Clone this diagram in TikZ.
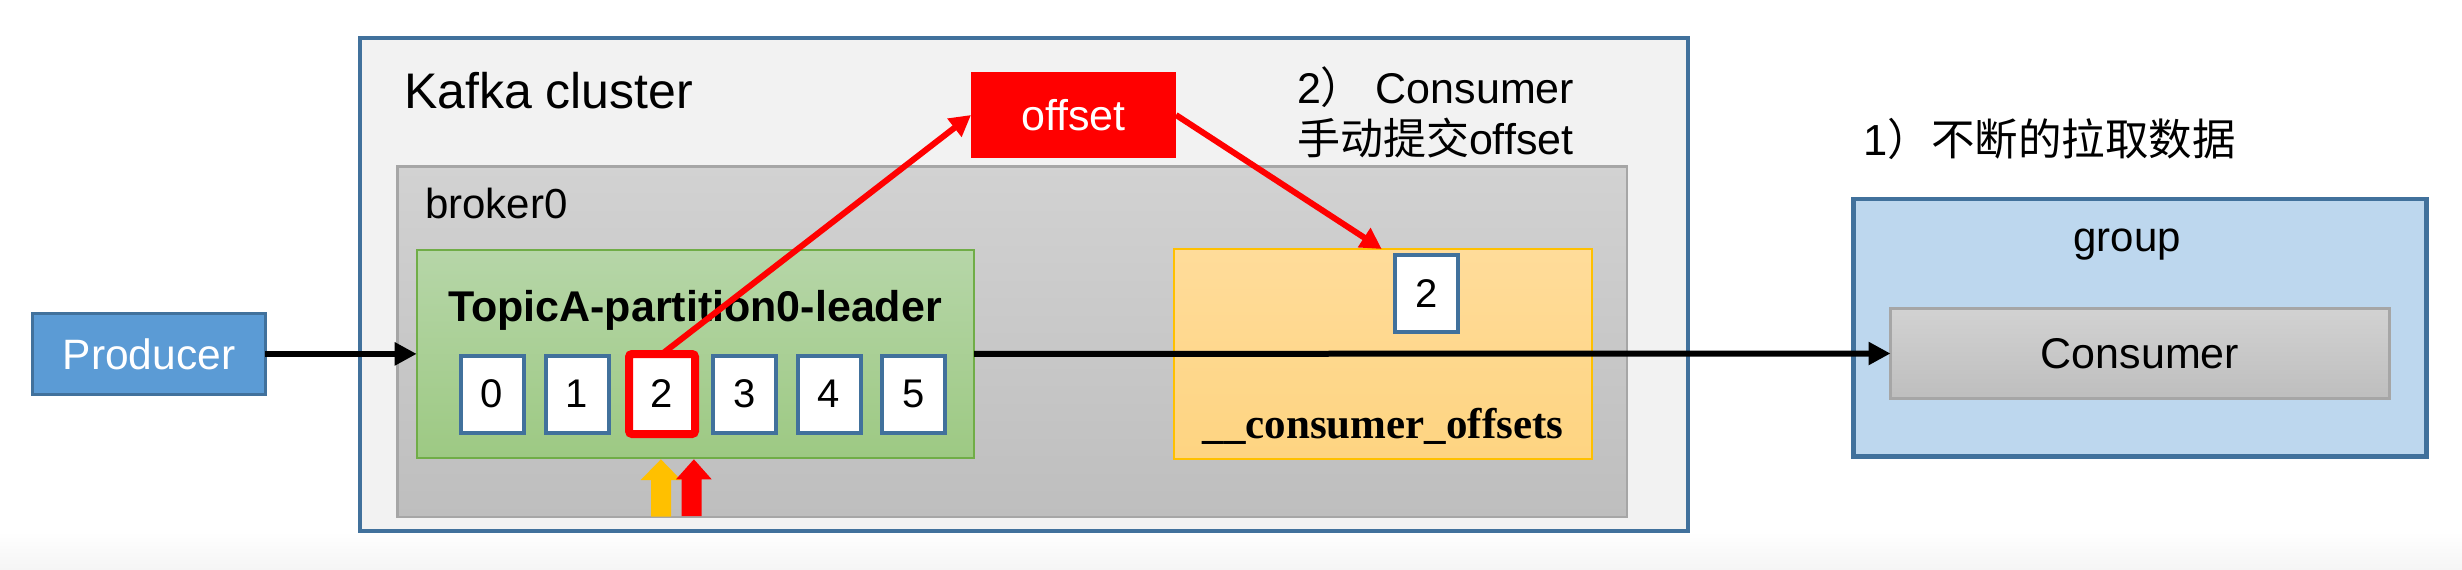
\documentclass[tikz,border=0pt]{standalone}
\usepackage{fontspec}
\setmainfont{Liberation Sans}
\newfontfamily\cjk{Noto Sans CJK SC}
\newfontfamily\serifb{Liberation Serif}
\usetikzlibrary{arrows.meta,calc}
\definecolor{steel}{HTML}{41719C}
\definecolor{prodblue}{HTML}{5B9BD5}
\definecolor{grpblue}{HTML}{BDD7EE}
\definecolor{clusterbg}{HTML}{F2F2F2}
\definecolor{graytop}{HTML}{D2D2D2}
\definecolor{graybot}{HTML}{BEBEBE}
\definecolor{grayline}{HTML}{A6A6A6}
\definecolor{greentop}{HTML}{B6D6A8}
\definecolor{greenbot}{HTML}{9DC983}
\definecolor{greenline}{HTML}{70AD47}
\definecolor{yeltop}{HTML}{FFDC9A}
\definecolor{yelbot}{HTML}{FED481}
\definecolor{yelline}{HTML}{FFC000}
\definecolor{pure red}{HTML}{FF0000}
\begin{document}
\begin{tikzpicture}[x=1pt,y=-1pt,
  box/.style={rectangle, inner sep=0pt, outer sep=0pt, anchor=center},
  lbl/.style={inner sep=0pt, outer sep=0pt, anchor=base west},
  f43/.style={font=\fontsize{43}{50}\selectfont},
  part/.style={box, draw=steel, line width=4pt, fill=white, minimum width=63pt, minimum height=77pt, font=\fontsize{40}{48}\selectfont},
  blk/.style={draw=black, line width=6pt, -{Triangle[length=22pt,width=22pt]}},
  redarr/.style={draw=pure red, line width=6pt, -{Triangle[length=21pt,width=22pt]}}
]
\useasboundingbox (0,0) rectangle (2462,570);
\fill[white] (0,0) rectangle (2462,570);
\shade[top color=white, bottom color=black!4] (0,532) rectangle (2462,570);

% Kafka cluster
\node[box, draw=steel, line width=3.6pt, fill=clusterbg, minimum width=1328pt, minimum height=493pt] (cluster) at (1024,284.5) {};
\node[lbl, font=\fontsize{50}{60}\selectfont] (kc) at (404,108) {Kafka cluster};

% broker
\node[box, draw=grayline, line width=2.5pt, top color=graytop, bottom color=graybot, minimum width=1229.5pt, minimum height=350.5pt] (broker) at (1012.25,341.75) {};
\node[lbl, font=\fontsize{42}{50}\selectfont] (bk) at (425,218) {broker0};

% topic partition
\node[box, draw=greenline, line width=2pt, top color=greentop, bottom color=greenbot, minimum width=557.3pt, minimum height=208.8pt] (topic) at (695.35,353.9) {};
\node[inner sep=0pt, anchor=base, font=\bfseries\fontsize{43}{50}\selectfont] (topiclbl) at (695,321.7) {TopicA-partition0-leader};

\node[part] (p0) at (492,394) {0};
\node[part] (p1) at (577,394) {1};
\node[part, draw=pure red, line width=8pt, rounded corners=3pt, minimum width=66pt, minimum height=80pt] (p2) at (662,394) {2};
\node[part] (p3) at (744.5,394) {3};
\node[part] (p4) at (829,394) {4};
\node[part] (p5) at (913.6,394) {5};

% consumer offsets
\node[box, draw=yelline, line width=2.5pt, top color=yeltop, bottom color=yelbot, minimum width=418pt, minimum height=210pt] (co) at (1383,354) {};
\node[part] (cobox) at (1426.5,293.5) {2};
\node[inner sep=0pt, anchor=base, font=\serifb\bfseries\fontsize{43}{50}\selectfont] (colbl) at (1383,438) {\_\_consumer\_offsets};

% offset
\node[box, fill=pure red, minimum width=205pt, minimum height=86pt, text=white, f43] (off) at (1073.5,115) {offset};

% labels
\node[lbl, f43] (l2a) at (1297,103.6) {2{\cjk ）} Consumer};
\node[lbl, f43] (l2b) at (1297,154.5) {{\cjk 手动提交}offset};
\node[lbl, font=\fontsize{43.5}{50}\selectfont] (l1) at (1863.5,155) {1{\cjk ）不断的拉取数据}};

% producer
\node[box, draw=steel, line width=3.6pt, fill=prodblue, minimum width=232.7pt, minimum height=81pt, text=white, font=\fontsize{42.5}{50}\selectfont] (prod) at (149,353.9) {Producer};

% group
\node[box, draw=steel, line width=4.5pt, fill=grpblue, minimum width=573.2pt, minimum height=257.5pt] (grp) at (2140.1,327.75) {};
\node[inner sep=0pt, anchor=base, font=\fontsize{42}{50}\selectfont] (grplbl) at (2127,251) {group};
\node[box, draw=grayline, line width=2.5pt, top color=graytop, bottom color=graybot, minimum width=499pt, minimum height=90pt, f43] (cons) at (2140,353.5) {Consumer};

% small block arrows
\fill[yelline] (651,516.7) -- (651,480) -- (640.7,480) -- (660.9,459.3) -- (681,480) -- (671,480) -- (671,516.7) -- cycle;
\fill[pure red] (681.7,516) -- (681.7,479.3) -- (676,479.3) -- (693.9,459.3) -- (711.7,479.3) -- (701.7,479.3) -- (701.7,516) -- cycle;

% connectors
\draw[blk] (prod.east) -- (topic.west);
\draw[blk] (topic.east) -- (cons.west);
\coordinate (cotop) at ($(co.north west)!0.4969!(co.north east)$);
\draw[redarr] (p2.north) -- (off.west);
\draw[redarr] (off.east) -- (cotop);
\end{tikzpicture}
\end{document}
